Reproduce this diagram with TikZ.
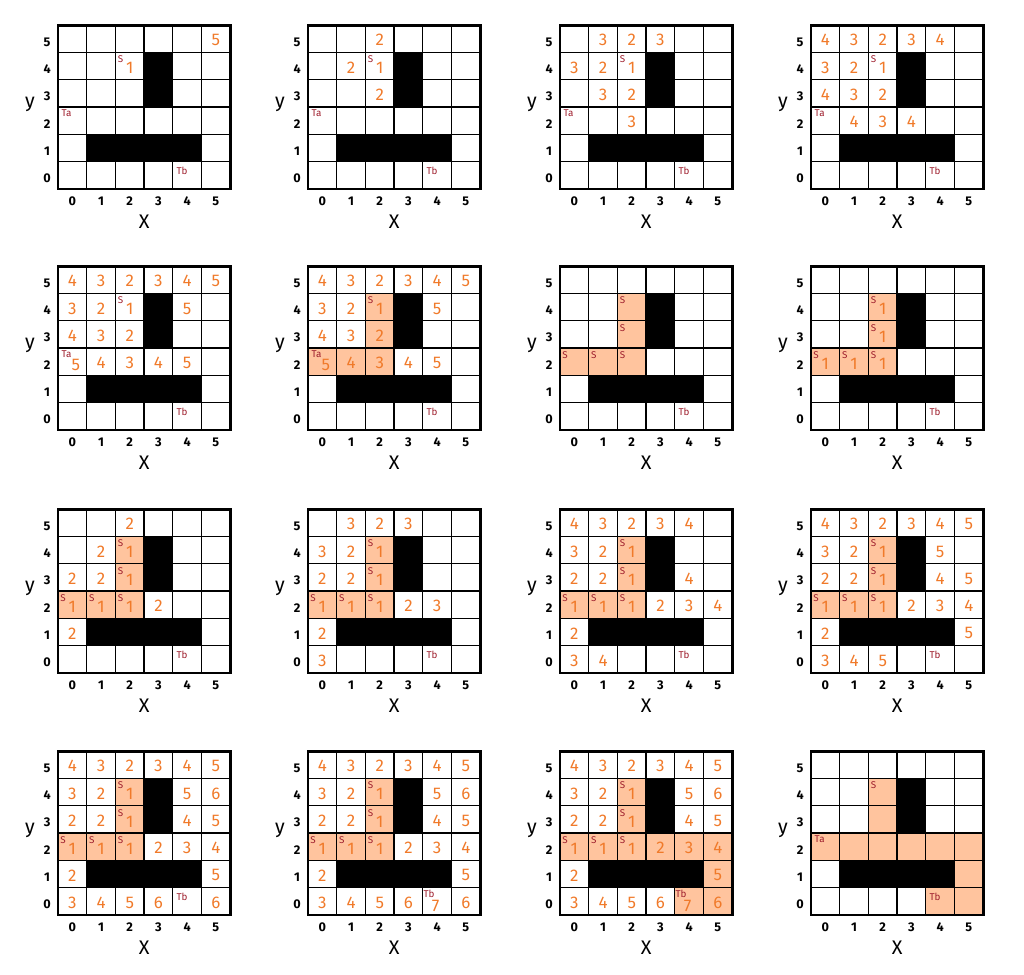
\documentclass[tikz,border=0pt]{standalone}
\usepackage{fontspec}
\setmainfont{Fira Sans}
\usepackage{xcolor}
\usepackage{tikz}
\usetikzlibrary{positioning}

\definecolor{numorange}{RGB}{240,122,42}
\definecolor{routefill}{RGB}{255,196,158}
\definecolor{tagred}{RGB}{158,30,45}

\def\srccells{2/4,2/3,0/2,1/2,2/2}
\def\goalcells{3/2,4/2,5/2,5/1,5/0,4/0}

\begin{document}
\begin{tikzpicture}[
    x=0.7175cm, y=0.6825cm,
    num/.style={text=numorange, font=\fontsize{12}{12}\selectfont, inner sep=0pt},
    tag/.style={text=tagred, font=\fontsize{7}{7}\selectfont, inner sep=0pt},
    axnum/.style={font=\fontsize{9}{9}\selectfont\bfseries, inner sep=0pt},
    axname/.style={font=\fontsize{14}{14}\selectfont, inner sep=0pt},
    route/.style={fill=routefill},
    board/.pic={
        \fill (1,1) rectangle (5,2);
        \fill (3,3) rectangle (4,5);
        \foreach \k in {1,...,5} {
            \draw[line width=0.9pt] (\k,0) -- (\k,6);
            \draw[line width=0.9pt] (0,\k) -- (6,\k);
        }
        \draw[line width=2pt] (0,0) rectangle (6,6);
        \foreach \k in {0,...,5} {
            \node[axnum] (x\k) at (\k+0.5,-0.45) {\k};
            \node[axnum] (y\k) at (-0.38,\k+0.38) {\k};
        }
        \node[axname] (xname) at (3,-1.2) {X};
        \node[axname] (yname) at (-0.98,3.1) {y};
    }
]
    \useasboundingbox (0cm,0cm) rectangle (25.6cm,24.35cm);

    \begin{scope}[shift={(1.45cm,19.625cm)}, name prefix=a-]
        \pic {board};
        \foreach \i/\j/\v in {2/4/1, 5/5/5}
            \node[num] (n\i\j) at (\i+0.5,\j+0.45) {\v};
        \node[tag] (s) at (2.18,4.74) {S};
        \node[tag] (ta) at (0.3,2.76) {Ta};
        \node[tag] (tb) at (4.32,0.68) {Tb};
    \end{scope}

    \begin{scope}[shift={(7.7cm,19.625cm)}, name prefix=b-]
        \pic {board};
        \foreach \i/\j/\v in {2/5/2, 1/4/2, 2/4/1, 2/3/2}
            \node[num] (n\i\j) at (\i+0.5,\j+0.45) {\v};
        \node[tag] (s) at (2.18,4.74) {S};
        \node[tag] (ta) at (0.3,2.76) {Ta};
        \node[tag] (tb) at (4.32,0.68) {Tb};
    \end{scope}

    \begin{scope}[shift={(14cm,19.625cm)}, name prefix=c-]
        \pic {board};
        \foreach \i/\j/\v in {1/5/3, 2/5/2, 3/5/3, 0/4/3, 1/4/2, 2/4/1,
                1/3/3, 2/3/2, 2/2/3}
            \node[num] (n\i\j) at (\i+0.5,\j+0.45) {\v};
        \node[tag] (s) at (2.18,4.74) {S};
        \node[tag] (ta) at (0.3,2.76) {Ta};
        \node[tag] (tb) at (4.32,0.68) {Tb};
    \end{scope}

    \begin{scope}[shift={(20.275cm,19.625cm)}, name prefix=d-]
        \pic {board};
        \foreach \i/\j/\v in {0/5/4, 1/5/3, 2/5/2, 3/5/3, 4/5/4,
                0/4/3, 1/4/2, 2/4/1, 0/3/4, 1/3/3, 2/3/2,
                1/2/4, 2/2/3, 3/2/4}
            \node[num] (n\i\j) at (\i+0.5,\j+0.45) {\v};
        \node[tag] (s) at (2.18,4.74) {S};
        \node[tag] (ta) at (0.3,2.76) {Ta};
        \node[tag] (tb) at (4.32,0.68) {Tb};
    \end{scope}

    \begin{scope}[shift={(1.45cm,13.6cm)}, name prefix=e-]
        \pic {board};
        \foreach \i/\j/\v in {0/5/4, 1/5/3, 2/5/2, 3/5/3, 4/5/4, 5/5/5,
                0/4/3, 1/4/2, 2/4/1, 4/4/5, 0/3/4, 1/3/3, 2/3/2,
                1/2/4, 2/2/3, 3/2/4, 4/2/5}
            \node[num] (n\i\j) at (\i+0.5,\j+0.45) {\v};
        \node[num] (n02) at (0.62,2.38) {5};
        \node[tag] (s) at (2.18,4.74) {S};
        \node[tag] (ta) at (0.3,2.76) {Ta};
        \node[tag] (tb) at (4.32,0.68) {Tb};
    \end{scope}

    \begin{scope}[shift={(7.7cm,13.6cm)}, name prefix=f-]
        \foreach \i/\j in \srccells
            \fill[route] (\i,\j) rectangle ++(1,1);
        \pic {board};
        \foreach \i/\j/\v in {0/5/4, 1/5/3, 2/5/2, 3/5/3, 4/5/4, 5/5/5,
                0/4/3, 1/4/2, 2/4/1, 4/4/5, 0/3/4, 1/3/3, 2/3/2,
                1/2/4, 2/2/3, 3/2/4, 4/2/5}
            \node[num] (n\i\j) at (\i+0.5,\j+0.45) {\v};
        \node[num] (n02) at (0.62,2.38) {5};
        \node[tag] (s) at (2.18,4.74) {S};
        \node[tag] (ta) at (0.3,2.76) {Ta};
        \node[tag] (tb) at (4.32,0.68) {Tb};
    \end{scope}

    \begin{scope}[shift={(14cm,13.6cm)}, name prefix=g-]
        \foreach \i/\j in \srccells
            \fill[route] (\i,\j) rectangle ++(1,1);
        \pic {board};
        \foreach \i/\j in \srccells
            \node[tag] (s\i\j) at (\i+0.18,\j+0.74) {S};
        \node[tag] (tb) at (4.32,0.68) {Tb};
    \end{scope}

    \begin{scope}[shift={(20.275cm,13.6cm)}, name prefix=h-]
        \foreach \i/\j in \srccells
            \fill[route] (\i,\j) rectangle ++(1,1);
        \pic {board};
        \foreach \i/\j in \srccells {
            \node[tag] (s\i\j) at (\i+0.18,\j+0.74) {S};
            \node[num] (n\i\j) at (\i+0.5,\j+0.42) {1};
        }
        \node[tag] (tb) at (4.32,0.68) {Tb};
    \end{scope}

    \begin{scope}[shift={(1.45cm,7.525cm)}, name prefix=i-]
        \foreach \i/\j in \srccells
            \fill[route] (\i,\j) rectangle ++(1,1);
        \pic {board};
        \foreach \i/\j in \srccells {
            \node[tag] (s\i\j) at (\i+0.18,\j+0.74) {S};
            \node[num] (n\i\j) at (\i+0.5,\j+0.42) {1};
        }
        \foreach \i/\j/\v in {2/5/2, 1/4/2, 0/3/2, 1/3/2, 3/2/2, 0/1/2}
            \node[num] (n\i\j) at (\i+0.5,\j+0.45) {\v};
        \node[tag] (tb) at (4.32,0.68) {Tb};
    \end{scope}

    \begin{scope}[shift={(7.7cm,7.525cm)}, name prefix=j-]
        \foreach \i/\j in \srccells
            \fill[route] (\i,\j) rectangle ++(1,1);
        \pic {board};
        \foreach \i/\j in \srccells {
            \node[tag] (s\i\j) at (\i+0.18,\j+0.74) {S};
            \node[num] (n\i\j) at (\i+0.5,\j+0.42) {1};
        }
        \foreach \i/\j/\v in {1/5/3, 2/5/2, 3/5/3, 0/4/3, 1/4/2,
                0/3/2, 1/3/2, 3/2/2, 4/2/3, 0/1/2, 0/0/3}
            \node[num] (n\i\j) at (\i+0.5,\j+0.45) {\v};
        \node[tag] (tb) at (4.32,0.68) {Tb};
    \end{scope}

    \begin{scope}[shift={(14cm,7.525cm)}, name prefix=k-]
        \foreach \i/\j in \srccells
            \fill[route] (\i,\j) rectangle ++(1,1);
        \pic {board};
        \foreach \i/\j in \srccells {
            \node[tag] (s\i\j) at (\i+0.18,\j+0.74) {S};
            \node[num] (n\i\j) at (\i+0.5,\j+0.42) {1};
        }
        \foreach \i/\j/\v in {0/5/4, 1/5/3, 2/5/2, 3/5/3, 4/5/4,
                0/4/3, 1/4/2, 0/3/2, 1/3/2, 4/3/4,
                3/2/2, 4/2/3, 5/2/4, 0/1/2, 0/0/3, 1/0/4}
            \node[num] (n\i\j) at (\i+0.5,\j+0.45) {\v};
        \node[tag] (tb) at (4.32,0.68) {Tb};
    \end{scope}

    \begin{scope}[shift={(20.275cm,7.525cm)}, name prefix=l-]
        \foreach \i/\j in \srccells
            \fill[route] (\i,\j) rectangle ++(1,1);
        \pic {board};
        \foreach \i/\j in \srccells {
            \node[tag] (s\i\j) at (\i+0.18,\j+0.74) {S};
            \node[num] (n\i\j) at (\i+0.5,\j+0.42) {1};
        }
        \foreach \i/\j/\v in {0/5/4, 1/5/3, 2/5/2, 3/5/3, 4/5/4, 5/5/5,
                0/4/3, 1/4/2, 4/4/5, 0/3/2, 1/3/2, 4/3/4, 5/3/5,
                3/2/2, 4/2/3, 5/2/4, 0/1/2, 5/1/5, 0/0/3, 1/0/4, 2/0/5}
            \node[num] (n\i\j) at (\i+0.5,\j+0.45) {\v};
        \node[tag] (tb) at (4.32,0.68) {Tb};
    \end{scope}

    \begin{scope}[shift={(1.45cm,1.475cm)}, name prefix=m-]
        \foreach \i/\j in \srccells
            \fill[route] (\i,\j) rectangle ++(1,1);
        \pic {board};
        \foreach \i/\j in \srccells {
            \node[tag] (s\i\j) at (\i+0.18,\j+0.74) {S};
            \node[num] (n\i\j) at (\i+0.5,\j+0.42) {1};
        }
        \foreach \i/\j/\v in {0/5/4, 1/5/3, 2/5/2, 3/5/3, 4/5/4, 5/5/5,
                0/4/3, 1/4/2, 4/4/5, 5/4/6, 0/3/2, 1/3/2, 4/3/4, 5/3/5,
                3/2/2, 4/2/3, 5/2/4, 0/1/2, 5/1/5,
                0/0/3, 1/0/4, 2/0/5, 3/0/6, 5/0/6}
            \node[num] (n\i\j) at (\i+0.5,\j+0.45) {\v};
        \node[tag] (tb) at (4.32,0.68) {Tb};
    \end{scope}

    \begin{scope}[shift={(7.7cm,1.475cm)}, name prefix=n-]
        \foreach \i/\j in \srccells
            \fill[route] (\i,\j) rectangle ++(1,1);
        \pic {board};
        \foreach \i/\j in \srccells {
            \node[tag] (s\i\j) at (\i+0.18,\j+0.74) {S};
            \node[num] (n\i\j) at (\i+0.5,\j+0.42) {1};
        }
        \foreach \i/\j/\v in {0/5/4, 1/5/3, 2/5/2, 3/5/3, 4/5/4, 5/5/5,
                0/4/3, 1/4/2, 4/4/5, 5/4/6, 0/3/2, 1/3/2, 4/3/4, 5/3/5,
                3/2/2, 4/2/3, 5/2/4, 0/1/2, 5/1/5,
                0/0/3, 1/0/4, 2/0/5, 3/0/6, 5/0/6}
            \node[num] (n\i\j) at (\i+0.5,\j+0.45) {\v};
        \node[tag] (tb) at (4.22,0.76) {Tb};
        \node[num] (n40) at (4.45,0.34) {7};
    \end{scope}

    \begin{scope}[shift={(14cm,1.475cm)}, name prefix=o-]
        \foreach \i/\j in \srccells
            \fill[route] (\i,\j) rectangle ++(1,1);
        \foreach \i/\j in \goalcells
            \fill[route] (\i,\j) rectangle ++(1,1);
        \pic {board};
        \foreach \i/\j in \srccells {
            \node[tag] (s\i\j) at (\i+0.18,\j+0.74) {S};
            \node[num] (n\i\j) at (\i+0.5,\j+0.42) {1};
        }
        \foreach \i/\j/\v in {0/5/4, 1/5/3, 2/5/2, 3/5/3, 4/5/4, 5/5/5,
                0/4/3, 1/4/2, 4/4/5, 5/4/6, 0/3/2, 1/3/2, 4/3/4, 5/3/5,
                3/2/2, 4/2/3, 5/2/4, 0/1/2, 5/1/5,
                0/0/3, 1/0/4, 2/0/5, 3/0/6, 5/0/6}
            \node[num] (n\i\j) at (\i+0.5,\j+0.45) {\v};
        \node[tag] (tb) at (4.22,0.76) {Tb};
        \node[num] (n40) at (4.45,0.34) {7};
    \end{scope}

    \begin{scope}[shift={(20.275cm,1.475cm)}, name prefix=p-]
        \foreach \i/\j in \srccells
            \fill[route] (\i,\j) rectangle ++(1,1);
        \foreach \i/\j in \goalcells
            \fill[route] (\i,\j) rectangle ++(1,1);
        \pic {board};
        \node[tag] (s) at (2.18,4.74) {S};
        \node[tag] (ta) at (0.3,2.76) {Ta};
        \node[tag] (tb) at (4.32,0.68) {Tb};
    \end{scope}
\end{tikzpicture}
\end{document}
